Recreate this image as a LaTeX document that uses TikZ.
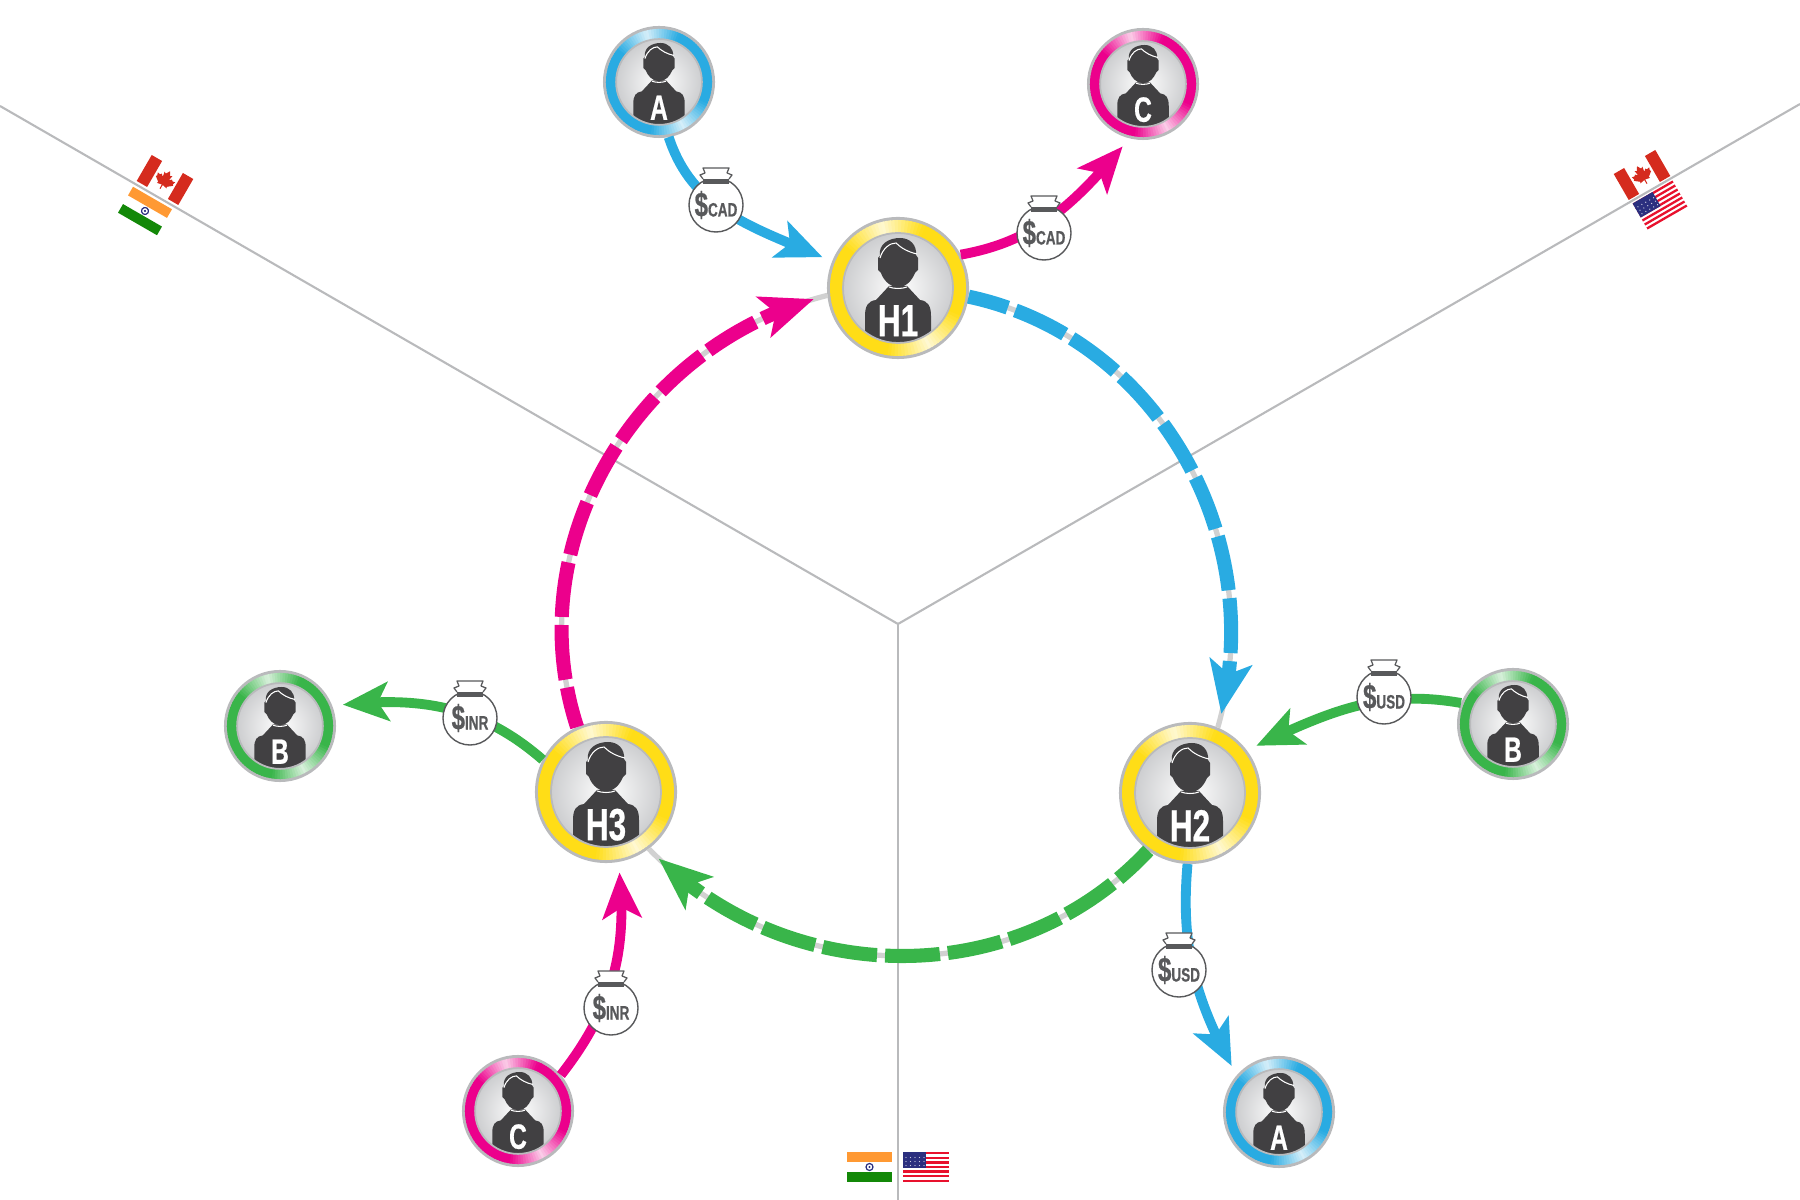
\documentclass[tikz,border=0pt]{standalone}
\usepackage{fontspec}
\usetikzlibrary{arrows.meta, bending}
\newfontfamily\narrowfont[FakeStretch=0.7, BoldFeatures={FakeBold=0.6}]{Liberation Sans}

\definecolor{ringblue}{HTML}{29ABE2}
\definecolor{ringpink}{HTML}{EC008C}
\definecolor{ringgreen}{HTML}{39B54A}
\definecolor{ringgold}{HTML}{FFDD17}
\definecolor{edgegray}{HTML}{B9BABC}
\definecolor{discgray}{HTML}{CDCED0}
\definecolor{icondark}{HTML}{414042}
\definecolor{baggray}{HTML}{58595B}
\definecolor{flagred}{HTML}{D52B1E}
\definecolor{flagorange}{HTML}{FF9933}
\definecolor{flaggreen}{HTML}{138808}
\definecolor{flagnavy}{HTML}{2B2F7F}
\definecolor{stripered}{HTML}{E8112D}

\tikzset{
    % the person badge, drawn at hub size
    pics/person/.style={code={
        \foreach \a in {0,3,...,357} {
            \pgfmathsetmacro\m{100-80*max(0,1-min(abs(\a-103),abs(\a-297))/38)}
            \fill[#1!\m!white] (\a:68) arc[start angle=\a, end angle=\a+4, radius=68] -- (\a+4:55) arc[start angle=\a+4, end angle=\a, radius=55] -- cycle;
        }
        \begin{scope}
            \clip (0,0) circle[radius=55];
            \shade[inner color=white, outer color=discgray] (0,0) circle[radius=55];
            \fill[icondark] (-9,2) -- (-22,-12) .. controls (-30,-13) and (-33,-18) .. (-33,-28) -- (-33,-60) -- (33,-60) -- (33,-28) .. controls (33,-18) and (30,-13) .. (22,-12) -- (9,2) -- cycle;
        \end{scope}
        \draw[edgegray, line width=0.5pt] (0,0) circle[radius=55];
        \fill[icondark] (0,1) .. controls (-9,1) and (-15,9) .. (-17,15) -- (-20,18) -- (-20,30) -- (-18,32) .. controls (-20,44) and (-9,50) .. (2,50) .. controls (12,50) and (19,43) .. (18,33) -- (20,30) -- (20,18) -- (17,15) .. controls (14,8) and (9,1) .. (0,1) -- cycle;
        \draw[white, line width=0.3pt] (-18,30) .. controls (-15,40) and (-8,45) .. (-2,45) .. controls (3,40) and (10,36) .. (19,34);
        \draw[white, line width=0.3pt] (-9,1) .. controls (-4,-1) and (4,-1) .. (9,1);
    }},
    pics/bagtop/.style={code={
        \fill[baggray] (-13,21) rectangle (13,26);
        \draw[baggray, fill=white, line width=0.35pt, line join=round] (-13,26) -- (-16,30) -- (-11,32) -- (-13,37) -- (13,37) -- (11,32) -- (16,30) -- (13,26);
    }},
    pics/flagca/.style={code={
        \fill[flagred] (-24,-15) rectangle (-12,15);
        \fill[flagred] (12,-15) rectangle (24,15);
        \fill[flagred] (0,10) -- (2.5,6) -- (4.5,7) -- (3.5,1.5) -- (6,4) -- (7,2.5) -- (10,3) -- (9,0) -- (10,-1) -- (5,-5) -- (5.5,-6.5) -- (0.5,-5.5) -- (0.5,-10) -- (-0.5,-10) -- (-0.5,-5.5) -- (-5.5,-6.5) -- (-5,-5) -- (-10,-1) -- (-9,0) -- (-10,3) -- (-7,2.5) -- (-6,4) -- (-3.5,1.5) -- (-4.5,7) -- (-2.5,6) -- cycle;
    }},
    pics/flagin/.style={code={
        \fill[flagorange] (-22.5,5) rectangle (22.5,15);
        \fill[flaggreen] (-22.5,-15) rectangle (22.5,-5);
        \draw[flagnavy, line width=0.35pt] (0,0) circle[radius=3.5];
        \fill[flagnavy] (0,0) circle[radius=1.2];
    }},
    pics/flagus/.style={code={
        \foreach \s in {0,2,...,12} {
            \fill[stripered] (-23,15-2.31*\s) rectangle (23,15-2.31*\s-2.31);
        }
        \fill[flagnavy] (-23,-1.2) rectangle (0,15);
        \foreach \u in {-20,-15.5,...,-2} {
            \foreach \v in {1.5,5.5,...,13} {
                \fill[white!75!flagnavy] (\u,\v) circle[radius=0.7];
            }
        }
    }},
}

\begin{document}
\begin{tikzpicture}[
    x=0.01cm, y=0.01cm,
    border/.style={draw=edgegray, line width=0.6pt},
    hub/.style={circle, fill=edgegray, minimum size=1.42cm, inner sep=0pt, outer sep=0pt},
    client/.style={circle, fill=edgegray, minimum size=1.12cm, inner sep=0pt, outer sep=0pt},
    hubtext/.style={font=\narrowfont\bfseries\fontsize{12.8}{13}\selectfont, text=white, inner sep=0pt},
    clienttext/.style={font=\narrowfont\bfseries\fontsize{10}{10}\selectfont, text=white, inner sep=0pt},
    bag/.style={circle, draw=baggray, fill=white, line width=0.4pt, minimum size=0.54cm, inner sep=0pt, text=baggray, font=\narrowfont\bfseries},
    hublink/.style={draw=white!82!black, line width=1.5pt},
    hubarrow/.style={-{Stealth[length=15pt, width=12pt, inset=3.5pt, flex]}, line width=4pt, dash pattern=on 15.6pt off 2.3pt, dash phase=4pt, shorten >=4pt},
    payarrow/.style={-{Stealth[length=13pt, width=11pt, inset=3pt, flex]}, line width=2.8pt, shorten >=3pt},
]
\useasboundingbox (0,0) rectangle (1800,1200);

% Corridor borders
\coordinate (mid) at (898,576);
\coordinate (westend) at (0,1094);
\coordinate (eastend) at (1800,1096);
\coordinate (southend) at (898,0);
\draw[border] (mid) -- (westend);
\draw[border] (mid) -- (eastend);
\draw[border] (mid) -- (southend);

% Flags
\pic[rotate=-30] at (165,1020) {flagca};
\pic[rotate=-30] at (145,989) {flagin};
\pic[rotate=30] at (1642,1025) {flagca};
\pic[rotate=30] at (1660,995) {flagus};
\pic at (869.5,33) {flagin};
\pic at (926,33) {flagus};

% Hubs
\foreach \name/\pos/\lab in {h1/{898,912}/H1, h2/{1190,407}/H2, h3/{606,408}/H3} {
    \node[hub] (\name) at (\pos) {};
    \pic at (\name) {person={ringgold}};
    \node[hubtext] (\name text) at ([yshift=-9.3pt]\name) {\lab};
}

% Clients
\foreach \name/\pos/\lab/\col in {a1/{659,1118}/A/ringblue, c1/{1143,1116}/C/ringpink, b2/{1513,476}/B/ringgreen, a2/{1279,88}/A/ringblue, b3/{280,474}/B/ringgreen, c3/{518,89}/C/ringpink} {
    \node[client] (\name) at (\pos) {};
    \pic[scale=0.78] at (\name) {person={\col}};
    \node[clienttext] (\name text) at ([yshift=-7.3pt]\name) {\lab};
}

% Ring between hubs
\draw[hublink] (h1.-7) to[out=-12, in=74] (h2.67);
\draw[hublink] (h2.-126) to[out=-133, in=-46] (h3.-53);
\draw[hublink] (h3.114) to[out=108, in=194] (h1.186);
\draw[hubarrow, draw=ringblue] (h1.-7) to[out=-12, in=74] (h2.67);
\draw[hubarrow, draw=ringgreen] (h2.-126) to[out=-133, in=-46] (h3.-53);
\draw[hubarrow, draw=ringpink] (h3.114) to[out=108, in=194] (h1.186);

% Payments
\draw[payarrow, draw=ringblue] (a1.-80) to[out=-72, in=156] (h1.158);
\draw[payarrow, draw=ringpink] (h1.28) to[out=10, in=-130] (c1.-104);
\draw[payarrow, draw=ringgreen] (b2.158) to[out=170, in=25] (h2.37);
\draw[payarrow, draw=ringblue] (h2.-92) to[out=-95, in=119] (a2.139);
\draw[payarrow, draw=ringgreen] (h3.153) to[out=139, in=7] (b3.21);
\draw[payarrow, draw=ringpink] (c3.40) to[out=52, in=-83] (h3.-80);

% Money bags
\foreach \name/\pos/\cur in {bagcada/{716,995}/CAD, bagcadb/{1044,967}/CAD, bagusda/{1384,503}/USD, bagusdb/{1179,230}/USD, baginra/{470,482}/INR, baginrb/{611,192}/INR} {
    \node[bag] (\name) at (\pos) {{\fontsize{9.8}{10}\selectfont\$}{\fontsize{5.5}{6}\selectfont\cur}};
    \pic at (\name) {bagtop};
}

\end{tikzpicture}
\end{document}
